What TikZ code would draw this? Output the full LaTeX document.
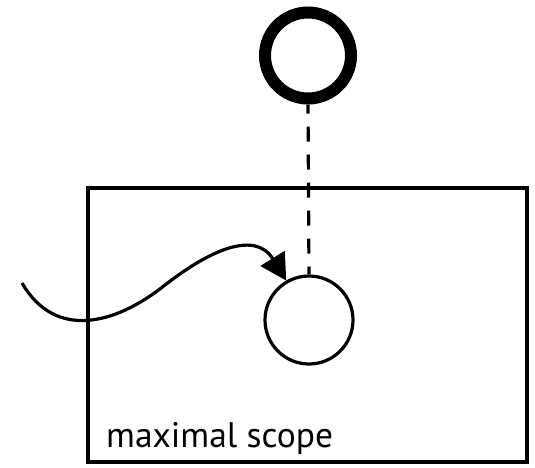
\documentclass[tikz,border=0pt]{standalone}
\usepackage{fontspec}
\setmainfont{PT Sans}
\usetikzlibrary{arrows.meta}
\begin{document}
\begin{tikzpicture}[x=1pt,y=-1pt,
  thin line/.style={line width=3.2pt},
  ring/.style={circle,draw,inner sep=0pt},
  scopebox/.style={draw,line width=3.2pt}]
\useasboundingbox (0,0) rectangle (535,467);
\node[scopebox,minimum width=439pt,minimum height=274pt,inner sep=0pt] (box) at (307.5,325) {};
\node[ring,line width=12pt,minimum size=86pt] (top) at (308,55.5) {};
\node[ring,line width=3.2pt,minimum size=88pt] (inner) at (309,320) {};
\node[anchor=base west,font=\fontsize{35.5}{38}\selectfont,inner sep=0pt] (label) at (106,447) {maximal scope};
\coordinate (start) at (22,283);
\draw[thin line,dash pattern=on 15pt off 13pt,dash phase=6pt] (top.south) -- (inner.north);
\draw[thin line,-{Triangle[length=26pt,width=28pt]}] (start) .. controls (55,340) and (115,325) .. (165,285) .. controls (210,250) and (255,230) .. (inner.120);
\end{tikzpicture}
\end{document}
